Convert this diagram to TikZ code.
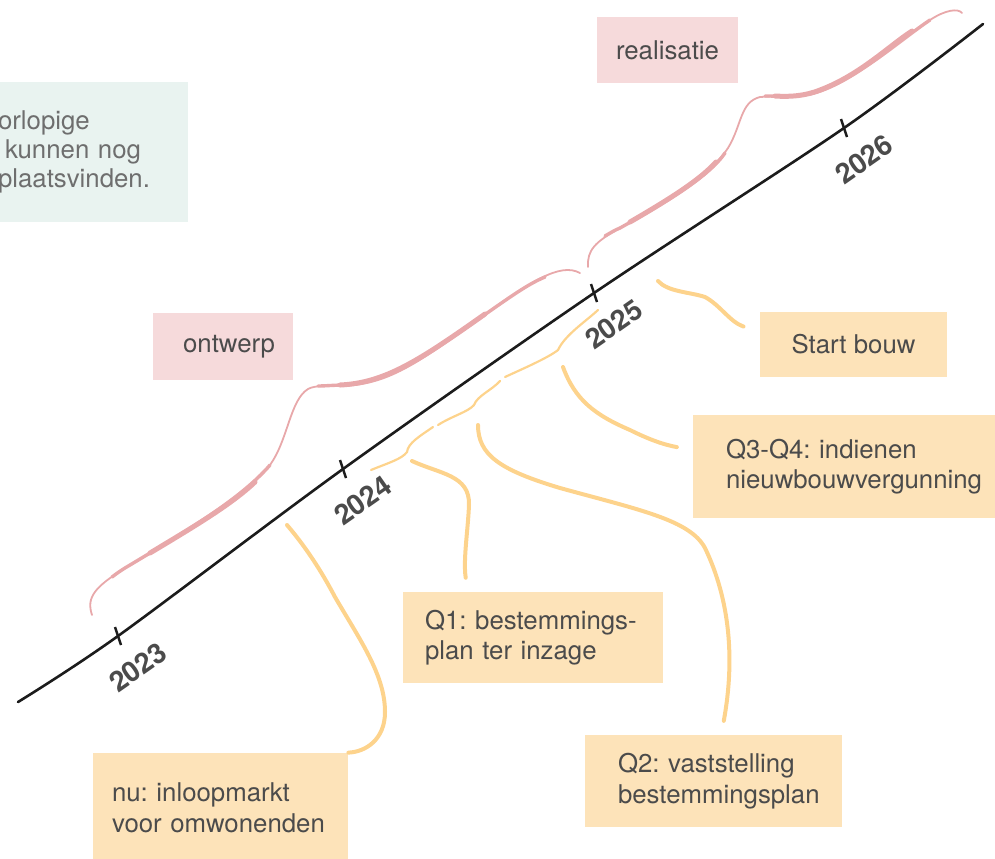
\documentclass[tikz,border=0pt]{standalone}
\usepackage{fontspec}
\setmainfont{TeX Gyre Heros}
\usetikzlibrary{calc}
\frenchspacing

\definecolor{inkgray}{HTML}{4B4B4B}
\definecolor{softgray}{HTML}{6E6E6E}
\definecolor{axisblack}{HTML}{1C1C1C}
\definecolor{orangefill}{HTML}{FDE3B9}
\definecolor{orangeline}{HTML}{FDD38C}
\definecolor{pinkfill}{HTML}{F6DADB}
\definecolor{pinkline}{HTML}{E8A8AA}
\definecolor{greenfill}{HTML}{E9F3F0}

\tikzset{
	note/.style={fill=orangefill, text=inkgray, align=left, inner ysep=0pt,
		font=\frenchspacing\fontsize{12.9}{15.3}\selectfont},
	phase/.style={fill=pinkfill, text=inkgray, inner sep=0pt,
		font=\fontsize{12.9}{15.3}\selectfont},
	link/.style={draw=orangeline, line width=2pt, line cap=round},
	quarter/.style={draw=orangeline, line width=1.1pt, line cap=round},
	span/.style={draw=pinkline, line width=0.9pt, line cap=round},
	spanmid/.style={draw=pinkline, line width=1.7pt, line cap=round},
	spanthick/.style={draw=pinkline, line width=2.5pt, line cap=round},
	year/.style={text=inkgray, rotate=35, inner sep=0pt,
		font=\bfseries\fontsize{14}{14}\selectfont},
	tick/.style={draw=axisblack, line width=1.2pt}
}

\begin{document}
\begin{tikzpicture}[x=0.5pt, y=-0.5pt]
	\useasboundingbox (0,0) rectangle (995,858);

	% tijdlijn
	\path (118,636) coordinate (t2023)
	(343,469) coordinate (t2024)
	(594,293) coordinate (t2025)
	(844,128) coordinate (t2026);
	\draw[axisblack, line width=1.3pt, line cap=round] plot[smooth, tension=0.5]
		coordinates {(18,702) (t2023) (t2024) (t2025) (t2026) (983,24)};
	\foreach \yr in {2023,2024,2025,2026} {
		\draw[tick] ($(t\yr)+(-3,-9)$) -- ($(t\yr)+(3,9)$);
		\node[year] (l\yr) at ($(t\yr)+(20,31)$) {\yr};
	}

	% fasen
	\node[phase, minimum width=70pt, minimum height=33.5pt] (ontwerp) at (223,346.5) {\hspace*{6pt}ontwerp};
	\node[phase, minimum width=70.5pt, minimum height=33pt] (realisatie) at (667.5,50) {realisatie};
	\draw[span] (92,615) .. controls (86,597) and (95,587) .. (125,568)
		.. controls (180,535) and (240,500) .. (270,465)
		.. controls (288,440) and (290,400) .. (308,389)
		.. controls (315,385) and (330,386) .. (345,385)
		.. controls (390,383) and (420,360) .. (480,318)
		.. controls (530,282) and (560,262) .. (580,273);
	\draw[spanmid] (112,577) .. controls (116,574) and (120,571) .. (125,568)
		.. controls (180,535) and (240,500) .. (270,465);
	\draw[spanthick] (150,553) .. controls (195,526) and (232,504) .. (255,482);
	\draw[spanmid] (318,386) .. controls (325,386) and (335,385) .. (345,385)
		.. controls (390,383) and (420,360) .. (480,318)
		.. controls (510,297) and (528,284) .. (545,277);
	\draw[spanthick] (340,385) .. controls (385,383) and (420,360) .. (485,314);
	\draw[span] (588,267) .. controls (587,250) and (595,242) .. (620,228)
		.. controls (670,200) and (710,175) .. (728,148)
		.. controls (742,125) and (740,102) .. (760,97)
		.. controls (775,96) and (795,97) .. (810,94)
		.. controls (850,85) and (900,40) .. (930,20)
		.. controls (945,10) and (958,8) .. (962,13);
	\draw[spanmid] (605,236) .. controls (610,233) and (615,230) .. (620,228)
		.. controls (670,200) and (710,175) .. (725,153);
	\draw[spanthick] (630,222) .. controls (668,200) and (700,180) .. (716,162);
	\draw[spanmid] (765,96) .. controls (780,96) and (795,97) .. (810,94)
		.. controls (850,85) and (900,40) .. (930,20);
	\draw[spanthick] (775,96) .. controls (790,97) and (805,96) .. (820,90)
		.. controls (860,75) and (890,45) .. (912,31);

	% kwartalen
	\draw[quarter] (371,470) .. controls (388,463) and (402,459) .. (407,452)
		.. controls (408,443) and (420,436) .. (433,427);
	\draw[quarter] (438,425) .. controls (452,416) and (468,412) .. (474,405)
		.. controls (477,396) and (492,390) .. (500,381);
	\draw[quarter] (505,377) .. controls (520,370) and (548,358) .. (558,350)
		.. controls (565,335) and (585,322) .. (598,310);

	% mijlpalen
	\node[note, text width=108.5pt, inner xsep=9.5pt, minimum height=54.5pt] (nu) at (220.5,807.5)
		{nu: inloopmarkt\\voor omwonenden};
	\node[note, text width=108pt, inner xsep=11pt, minimum height=45.5pt] (q1) at (533,637.5)
		{Q1: bestemmings-\\plan ter inzage};
	\node[note, text width=95.5pt, inner xsep=16.5pt, minimum height=46pt] (q2) at (713.5,781)
		{Q2: vaststelling\\bestemmingsplan};
	\node[note, text width=128.5pt, inner xsep=16.5pt, minimum height=51.5pt] (q3) at (854.5,466.5)
		{Q3-Q4: indienen\\nieuwbouwvergunning};
	\node[note, align=center, inner sep=0pt, minimum width=93.5pt, minimum height=32.5pt] (bouw) at (853.5,344.5)
		{Start bouw};
	\node[fill=greenfill, text=softgray, align=left, inner xsep=14pt, inner ysep=0pt, text width=81pt,
		minimum height=70pt, font=\fontsize{12.9}{14.6}\selectfont] (info) at (79,152)
		{orlopige\\\hspace*{3.5pt}kunnen nog\\plaatsvinden.};

	\path (287,525) coordinate (s-nu)
	(412,461) coordinate (s-q1)
	(478,425) coordinate (s-q2)
	(563,367) coordinate (s-q3)
	(658,281) coordinate (s-bouw);

	\draw[link] (s-nu) .. controls (310,552) and (325,578) .. (335,597)
		.. controls (360,640) and (385,675) .. (385,712)
		.. controls (385,740) and (365,752) .. (nu.north east);
	\draw[link, shorten >=7pt] (s-q1) .. controls (440,474) and (470,475) .. (469,505)
		.. controls (468,530) and (463,560) .. ($(q1.north west)!0.25!(q1.north east)$);
	\draw[link, shorten >=7pt] (s-q2) .. controls (478,455) and (500,470) .. (560,488)
		.. controls (640,510) and (690,520) .. (705,548)
		.. controls (730,600) and (735,660) .. ($(q2.north west)!0.53!(q2.north east)$);
	\draw[link, shorten >=8pt] (s-q3) .. controls (575,400) and (595,415) .. (630,430)
		.. controls (650,440) and (665,445) .. ($(q3.north west)!0.34!(q3.south west)$);
	\draw[link, shorten >=8.5pt] (s-bouw) .. controls (668,292) and (690,292) .. (705,297)
		.. controls (720,305) and (730,322) .. ($(bouw.north west)!0.31!(bouw.south west)$);
\end{tikzpicture}
\end{document}
